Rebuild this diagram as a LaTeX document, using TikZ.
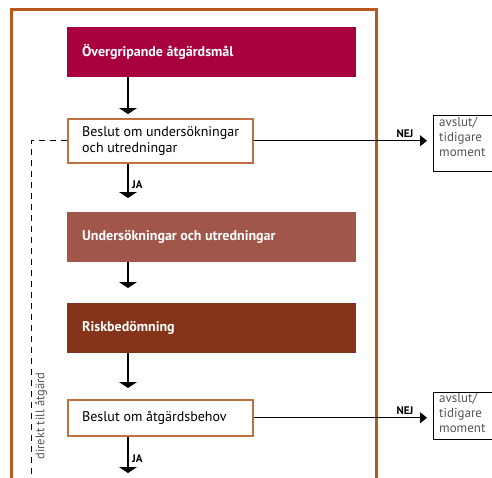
\documentclass[tikz,border=0pt]{standalone}
\usepackage{fontspec}
\setmainfont{PT Sans}
\usetikzlibrary{arrows.meta}
\definecolor{frameor}{HTML}{B85A1E}
\definecolor{cone}{HTML}{A8003F}
\definecolor{cthree}{HTML}{A0574A}
\definecolor{cfour}{HTML}{85341A}
\definecolor{decborder}{HTML}{C0703E}
\definecolor{grtext}{HTML}{555555}
\begin{document}
\begin{tikzpicture}[x=1pt,y=-1pt,
  bigbox/.style={anchor=north west, minimum width=289pt, minimum height=50pt, inner sep=0pt},
  decbox/.style={anchor=north west, draw=decborder, line width=1.5pt, fill=white, minimum width=185pt, inner sep=0pt},
  boxtext/.style={anchor=west, inner sep=0pt, align=left, font=\fontsize{14}{16}\selectfont},
  whitetext/.style={boxtext, text=white, font=\fontsize{14}{16}\selectfont\bfseries},
  endbox/.style={anchor=north west, draw=black, line width=1.2pt, fill=white, minimum width=59pt, minimum height=56pt, inner sep=0pt},
  endtext/.style={anchor=north west, inner sep=0pt, align=left, text=grtext, font=\fontsize{13}{15}\selectfont},
  arr/.style={line width=1.2pt, -{Triangle[width=18pt,length=6pt]}},
  harr/.style={line width=1.2pt, -{Triangle[width=11pt,length=7pt]}},
  lbl/.style={inner sep=0pt, font=\fontsize{11}{12}\selectfont\bfseries}
]
\useasboundingbox (0,0) rectangle (492,477);
\clip (0,0) rectangle (492,477);

% outer frame
\draw[frameor, line width=3pt] (11.5,9.5) rectangle (376.5,500);

% main boxes
\node[bigbox, fill=cone] (m1) at (67,27) {};
\node[whitetext] (t1) at ([xshift=15pt]m1.west) {Övergripande åtgärdsmål};

\node[decbox, minimum height=44pt] (d2) at (67,118) {};
\node[boxtext] (t2) at ([xshift=15pt]d2.west) {Beslut om undersökningar\\och utredningar};

\node[bigbox, fill=cthree] (m3) at (67,212) {};
\node[whitetext] (t3) at ([xshift=15pt]m3.west) {Undersökningar och utredningar};

\node[bigbox, fill=cfour] (m4) at (67,303) {};
\node[whitetext] (t4) at ([xshift=15pt]m4.west) {Riskbedömning};

\node[decbox, minimum height=36pt] (d5) at (67,399) {};
\node[boxtext] (t5) at ([xshift=15pt]d5.west) {Beslut om åtgärdsbehov};

% end boxes
\node[endbox] (e1) at (433,114.5) {};
\node[endtext] (et1) at ([xshift=6pt,yshift=-3pt]e1.north west) {avslut/\\tidigare\\moment};
\node[endbox, minimum height=47pt] (e2) at (433,392) {};
\node[endtext] (et2) at ([xshift=6pt,yshift=-1pt]e2.north west) {avslut/\\tidigare\\moment};

% bottom free end
\coordinate (bot) at (128,473);
\coordinate (dashbot) at (31,500);
\coordinate (dashcorner) at (31,142);

% vertical arrows
\draw[arr, shorten >=4pt] ([xshift=61pt]m1.south west) -- ([xshift=61pt]d2.north west);
\draw[arr, shorten >=14pt] ([xshift=61pt]d2.south west) -- ([xshift=61pt]m3.north west);
\draw[arr, shorten >=15pt] ([xshift=61pt]m3.south west) -- ([xshift=61pt]m4.north west);
\draw[arr, shorten >=11pt] ([xshift=61pt]m4.south west) -- ([xshift=61pt]d5.north west);
\draw[arr] ([xshift=61pt]d5.south west) -- (bot);

\node[lbl, anchor=west] (ja1) at (132,185) {JA};
\node[lbl, anchor=west] (ja2) at (132,459) {JA};

% NEJ arrows
\draw[harr, shorten >=6pt] (d2.east) -- (e1.west |- d2.east);
\draw[harr, shorten >=6pt] (d5.east) -- (e2.west |- d5.east);
\node[lbl, anchor=south] (n1) at (405,138) {NEJ};
\node[lbl, anchor=south] (n2) at (405,415) {NEJ};

% dashed bypass
\draw[line width=1pt, dash pattern=on 6pt off 5pt] (d2.west) -- (d2.west -| dashcorner) -- (dashbot);
\node[rotate=90, inner sep=0pt, text=grtext, font=\fontsize{12.5}{13}\selectfont] (dl) at (41,416) {direkt till åtgärd};
\end{tikzpicture}
\end{document}
